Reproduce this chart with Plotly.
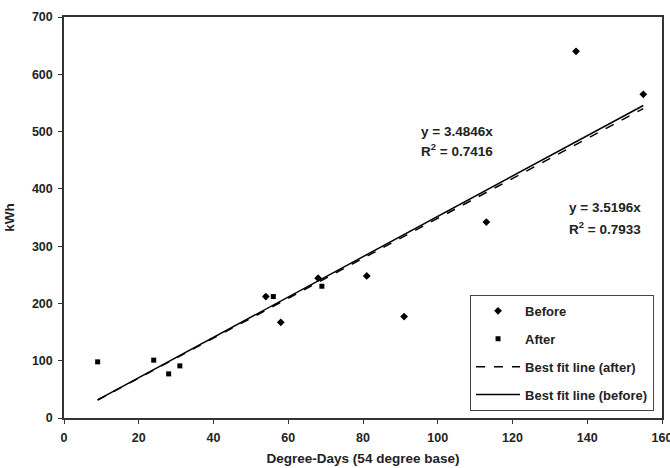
import plotly.graph_objects as go

# Data
before_x = [54, 58, 68, 81, 91, 113, 137, 155]
before_y = [212, 167, 244, 248, 177, 342, 640, 565]
after_x = [9, 24, 28, 31, 56, 69]
after_y = [98, 101, 77, 91, 212, 230]

slope_after = 3.4846
r2_after = 0.7416
slope_before = 3.5196
r2_before = 0.7933

fit_x = [9, 155]
fit_after_y = [slope_after * v for v in fit_x]
fit_before_y = [slope_before * v for v in fit_x]

x_ticks = [0, 20, 40, 60, 80, 100, 120, 140, 160]
y_ticks = [0, 100, 200, 300, 400, 500, 600, 700]

FONT = "Liberation Sans, Arial, sans-serif"

fig = go.Figure()
fig.add_trace(go.Scatter(x=before_x, y=before_y, mode="markers", name="Before",
                         legendgroup="a",
                         marker=dict(symbol="diamond", size=6, color="black")))
fig.add_trace(go.Scatter(x=after_x, y=after_y, mode="markers", name="After",
                         legendgroup="b",
                         marker=dict(symbol="square", size=5, color="black")))
fig.add_trace(go.Scatter(x=fit_x, y=fit_after_y, mode="lines", name="Best fit line (after)",
                         legendgroup="c",
                         line=dict(color="black", width=1.5, dash="dash")))
fig.add_trace(go.Scatter(x=fit_x, y=fit_before_y, mode="lines", name="Best fit line (before)",
                         legendgroup="d",
                         line=dict(color="black", width=1.5)))

ann_font = dict(family=FONT, size=13.5, color="#222", weight="bold")
fig.add_annotation(x=95, y=501, text=f"y = {slope_after}x", showarrow=False,
                   xanchor="left", yanchor="middle", font=ann_font)
fig.add_annotation(x=95, y=467, text=f"R<sup>2</sup> = {r2_after}", showarrow=False,
                   xanchor="left", yanchor="middle", font=ann_font)
fig.add_annotation(x=134.5, y=367, text=f"y = {slope_before}x", showarrow=False,
                   xanchor="left", yanchor="middle", font=ann_font)
fig.add_annotation(x=134.5, y=332, text=f"R<sup>2</sup> = {r2_before}", showarrow=False,
                   xanchor="left", yanchor="middle", font=ann_font)

tick_font = dict(family=FONT, size=12.5, color="#222", weight="bold")
fig.update_layout(
    width=670, height=468,
    margin=dict(l=64, r=8, t=17, b=50),
    paper_bgcolor="white", plot_bgcolor="white",
    font=dict(family=FONT, color="#222"),
    showlegend=True,
    legend=dict(
        x=0.679, y=0.307, xanchor="left", yanchor="top",
        bgcolor="white", bordercolor="#444", borderwidth=1,
        font=dict(family=FONT, size=13, color="#222", weight="bold"),
        traceorder="grouped", tracegroupgap=8, itemwidth=44,
    ),
    xaxis=dict(
        range=[0, 160], tickvals=x_ticks, ticktext=[str(v) for v in x_ticks],
        showgrid=False, zeroline=False, showline=True, linecolor="#333", linewidth=1.5,
        mirror=True, ticks="outside", ticklen=4, tickcolor="#333",
        tickfont=tick_font, ticklabelstandoff=3, ticklabeloverflow="allow",
        automargin=False,
        title=dict(text="Degree-Days (54 degree base)", standoff=10,
                   font=dict(family=FONT, size=13.5, color="#222", weight="bold")),
    ),
    yaxis=dict(
        range=[0, 700], tickvals=y_ticks, ticktext=[str(v) for v in y_ticks],
        showgrid=False, zeroline=False, showline=True, linecolor="#333", linewidth=1.5,
        mirror=True, ticks="outside", ticklen=4, tickcolor="#333",
        tickfont=tick_font, ticklabelstandoff=3,
        automargin=False,
        title=dict(text="kWh", standoff=14,
                   font=dict(family=FONT, size=13.5, color="#222", weight="bold")),
    ),
)

fig.write_html("out.html")
